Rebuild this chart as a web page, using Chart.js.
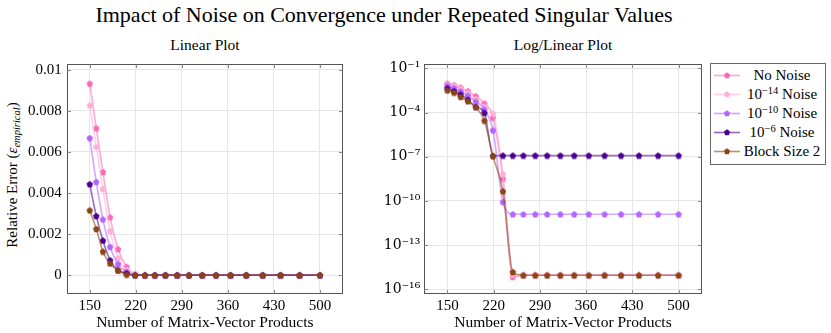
<!DOCTYPE html>
<html><head><meta charset="utf-8">
<script src="https://cdn.jsdelivr.net/npm/chart.js@4.4.0/dist/chart.umd.min.js"></script>
<style>
html,body{margin:0;padding:0;background:#fff;}
body{width:831px;height:333px;position:relative;overflow:hidden;font-family:"Liberation Serif",serif;color:#000;}
.abs{position:absolute;}
#title{left:0;width:768px;top:3px;text-align:center;font-size:22px;line-height:24px;white-space:nowrap;}
.sub{width:240px;text-align:center;font-size:15.5px;line-height:16px;top:37px;white-space:nowrap;}
#ylab{left:12px;top:175px;transform:translate(-50%,-50%) rotate(-90deg);font-size:15px;white-space:nowrap;}
#ylab sub{font-size:10.5px;vertical-align:-3px;line-height:0;}
#legend{left:710px;top:63px;width:114px;height:98px;border:1px solid #666;padding-top:2px;box-sizing:content-box;}
.row{height:19px;position:relative;}
.row svg{position:absolute;left:3px;top:3px;}
.row span{position:absolute;left:30px;width:82px;text-align:center;top:0px;font-size:15px;line-height:18px;white-space:nowrap;}
.row sup{font-size:10.5px;vertical-align:5px;line-height:0;}
canvas{position:absolute;top:0;}
</style></head>
<body>
<div id="title" class="abs">Impact of Noise on Convergence under Repeated Singular Values</div>
<div class="abs sub" style="left:85px;">Linear Plot</div>
<div class="abs sub" style="left:443px;">Log/Linear Plot</div>
<div id="ylab" class="abs">Relative Error (<i>ε</i><sub><i>empirical</i></sub>)</div>
<canvas id="c1" width="360" height="333" style="left:0;width:360px;height:333px;"></canvas>
<canvas id="c2" width="340" height="333" style="left:370px;width:340px;height:333px;"></canvas>
<div id="legend" class="abs"></div>
<script>
// ---- data ----
const xValues = [150,160,170,181,193,206,219,234,249,265,283,301,321,342,364,388,413,440,469,500];
const noNoise = [0.00933,0.00715,0.00502,0.00282,0.00127,0.00041,4.5e-5,3.3e-9,7e-16,9e-16,9e-16,9e-16,9e-16,9e-16,9e-16,9e-16,9e-16,9e-16,9e-16,9e-16];
const noise14 = [0.00827,0.00625,0.0042,0.00216,0.00083,0.00026,8.7e-5,6.8e-9,1.0e-15,1.0e-15,1.0e-15,1.0e-15,1.0e-15,1.0e-15,1.0e-15,1.0e-15,1.0e-15,1.0e-15,1.0e-15,1.0e-15];
const noise10 = [0.00668,0.00454,0.00272,0.00138,0.00054,0.00016,6.3e-6,8.5e-11,1.25e-11,1.25e-11,1.25e-11,1.25e-11,1.25e-11,1.25e-11,1.25e-11,1.25e-11,1.25e-11,1.25e-11,1.25e-11,1.25e-11];
const noise6  = [0.00443,0.00288,0.00169,0.00073,0.00024,9.5e-5,1.15e-7,1.2e-7,1.2e-7,1.2e-7,1.2e-7,1.2e-7,1.2e-7,1.2e-7,1.2e-7,1.2e-7,1.2e-7,1.2e-7,1.2e-7,1.2e-7];
const block2  = [0.00316,0.00225,0.00115,0.00057,0.00023,2.8e-5,1.1e-7,4.5e-10,1.5e-15,9e-16,9e-16,9e-16,9e-16,9e-16,9e-16,9e-16,9e-16,9e-16,9e-16,9e-16];
const seriesNames = ['No Noise','10⁻¹⁴ Noise','10⁻¹⁰ Noise','10⁻⁶ Noise','Block Size 2'];
const xTicks = [150,220,290,360,430,500];
const linTicks = [0,0.002,0.004,0.006,0.008,0.01];
const linTickLabels = ['0','0.002','0.004','0.006','0.008','0.01'];
const logTicks = [1e-1,1e-4,1e-7,1e-10,1e-13,1e-16];
const logTickLabels = ['10⁻¹','10⁻⁴','10⁻⁷','10⁻¹⁰','10⁻¹³','10⁻¹⁶'];

// ---- styling ----
const series = [noNoise, noise14, noise10, noise6, block2];
const colors = ['#ff69b4','#ffb0d8','#b366ff','#4b0096','#8b4513'];
const FONT = {family:'"Liberation Serif", serif', size:15};
const TITLEFONT = {family:'"Liberation Serif", serif', size:15.5};

function rgba(hex,a){const n=parseInt(hex.slice(1),16);return `rgba(${n>>16&255},${n>>8&255},${n&255},${a})`;}
function pentagon(color,r){
  const s=Math.ceil(2*r)+1;const c=document.createElement('canvas');c.width=s;c.height=s;
  const g=c.getContext('2d');g.beginPath();
  for(let i=0;i<5;i++){const a=-Math.PI/2+i*2*Math.PI/5;const px=s/2+r*Math.cos(a),py=s/2+r*1.05*Math.sin(a)+0.3;i?g.lineTo(px,py):g.moveTo(px,py);}
  g.closePath();g.fillStyle=color;g.fill();return c;
}
const markers = colors.map(c=>pentagon(c,3.4));

function datasets(){
  return series.map((vals,i)=>({
    label:seriesNames[i],
    data:xValues.map((x,j)=>({x:x,y:vals[j]})),
    borderColor:rgba(colors[i],0.55),
    backgroundColor:colors[i],
    borderWidth:1.7,
    pointStyle:markers[i],
    pointRadius:3.5,pointHoverRadius:3.5,
    cubicInterpolationMode:'monotone',
    fill:false,
    order:4-i
  }));
}

const frame = {
  id:'frame',
  afterDraw(chart){
    const {ctx,chartArea:a,scales}=chart;
    ctx.save();
    ctx.strokeStyle='#555';ctx.lineWidth=1;
    const L=Math.round(a.left)+0.5,R=Math.round(a.right)-0.5,T=Math.round(a.top)+0.5,B=Math.round(a.bottom)-0.5;
    ctx.strokeRect(L,T,R-L,B-T);
    ctx.strokeStyle='#888';
    ctx.beginPath();
    scales.x.ticks.forEach(t=>{const px=Math.round(scales.x.getPixelForValue(t.value))+0.5;ctx.moveTo(px,B);ctx.lineTo(px,B-3.5);ctx.moveTo(px,T);ctx.lineTo(px,T+3.5);});
    scales.y.ticks.forEach(t=>{const py=Math.round(scales.y.getPixelForValue(t.value))+0.5;ctx.moveTo(L,py);ctx.lineTo(L+3.5,py);ctx.moveTo(R,py);ctx.lineTo(R-3.5,py);});
    ctx.stroke();
    ctx.restore();
  }
};

const xScale = (h)=>({
  type:'linear',min:115,max:535,
  afterBuildTicks:s=>{s.ticks=xTicks.map(v=>({value:v}));},
  ticks:{font:FONT,color:'#000',padding:3,maxRotation:0,callback:(v)=>String(v)},
  grid:{color:'#e6e6e6',drawTicks:false},
  border:{display:false},
  title:{display:true,text:'Number of Matrix-Vector Products',font:TITLEFONT,color:'#000',padding:{top:0,bottom:1}},
  afterFit:s=>{s.height=h;}
});

const common = {
  responsive:false,animation:false,
  plugins:{legend:{display:false},tooltip:{enabled:false}},
  elements:{line:{borderCapStyle:'round'}}
};

new Chart(document.getElementById('c1'),{
  type:'line',
  data:{datasets:datasets()},
  options:Object.assign({},common,{
    layout:{padding:{left:0,right:17,top:64,bottom:0}},
    scales:{
      x:xScale(38.7),
      y:{type:'linear',min:-0.00093,max:0.01028,
        afterBuildTicks:s=>{s.ticks=linTicks.map(v=>({value:v}));},
        ticks:{font:FONT,color:'#000',padding:5,callback:(v,i)=>linTickLabels[i]},
        grid:{color:'#e6e6e6',drawTicks:false},border:{display:false},
        afterFit:s=>{s.width=66.7;}
      }
    }
  }),
  plugins:[frame]
});

new Chart(document.getElementById('c2'),{
  type:'line',
  data:{datasets:datasets()},
  options:Object.assign({},common,{
    layout:{padding:{left:0,right:8.3,top:64,bottom:0}},
    scales:{
      x:xScale(38.7),
      y:{type:'logarithmic',min:4.6e-17,max:0.196,
        afterBuildTicks:s=>{s.ticks=logTicks.map(v=>({value:v}));},
        ticks:{font:{family:'"DejaVu Serif", serif',size:14},color:'#000',padding:4,callback:(v,i)=>logTickLabels[i]},
        grid:{color:'#e6e6e6',drawTicks:false},border:{display:false},
        afterFit:s=>{s.width=54.3;}
      }
    }
  }),
  plugins:[frame]
});

// legend
const supMap={'⁻':'−','⁰':'0','¹':'1','²':'2','³':'3','⁴':'4','⁵':'5','⁶':'6','⁷':'7','⁸':'8','⁹':'9'};
function toHtml(s){return s.replace(/[⁻⁰¹²³⁴⁵⁶⁷⁸⁹]+/g,m=>'<sup>'+[...m].map(ch=>supMap[ch]).join('')+'</sup>');}
const lg=document.getElementById('legend');
seriesNames.forEach((name,i)=>{
  const row=document.createElement('div');row.className='row';
  row.innerHTML=`<svg width="26" height="12" viewBox="0 0 26 12"><line x1="0" y1="6.5" x2="26" y2="6.5" stroke="${rgba(colors[i],0.6)}" stroke-width="1.6"/><polygon points="${[0,1,2,3,4].map(k=>{const a=-Math.PI/2+k*2*Math.PI/5;return (13+3.2*Math.cos(a)).toFixed(2)+','+(6.6+3.3*Math.sin(a)).toFixed(2);}).join(' ')}" fill="${colors[i]}"/></svg><span>${toHtml(name)}</span>`;
  lg.appendChild(row);
});
</script>
</body></html>
